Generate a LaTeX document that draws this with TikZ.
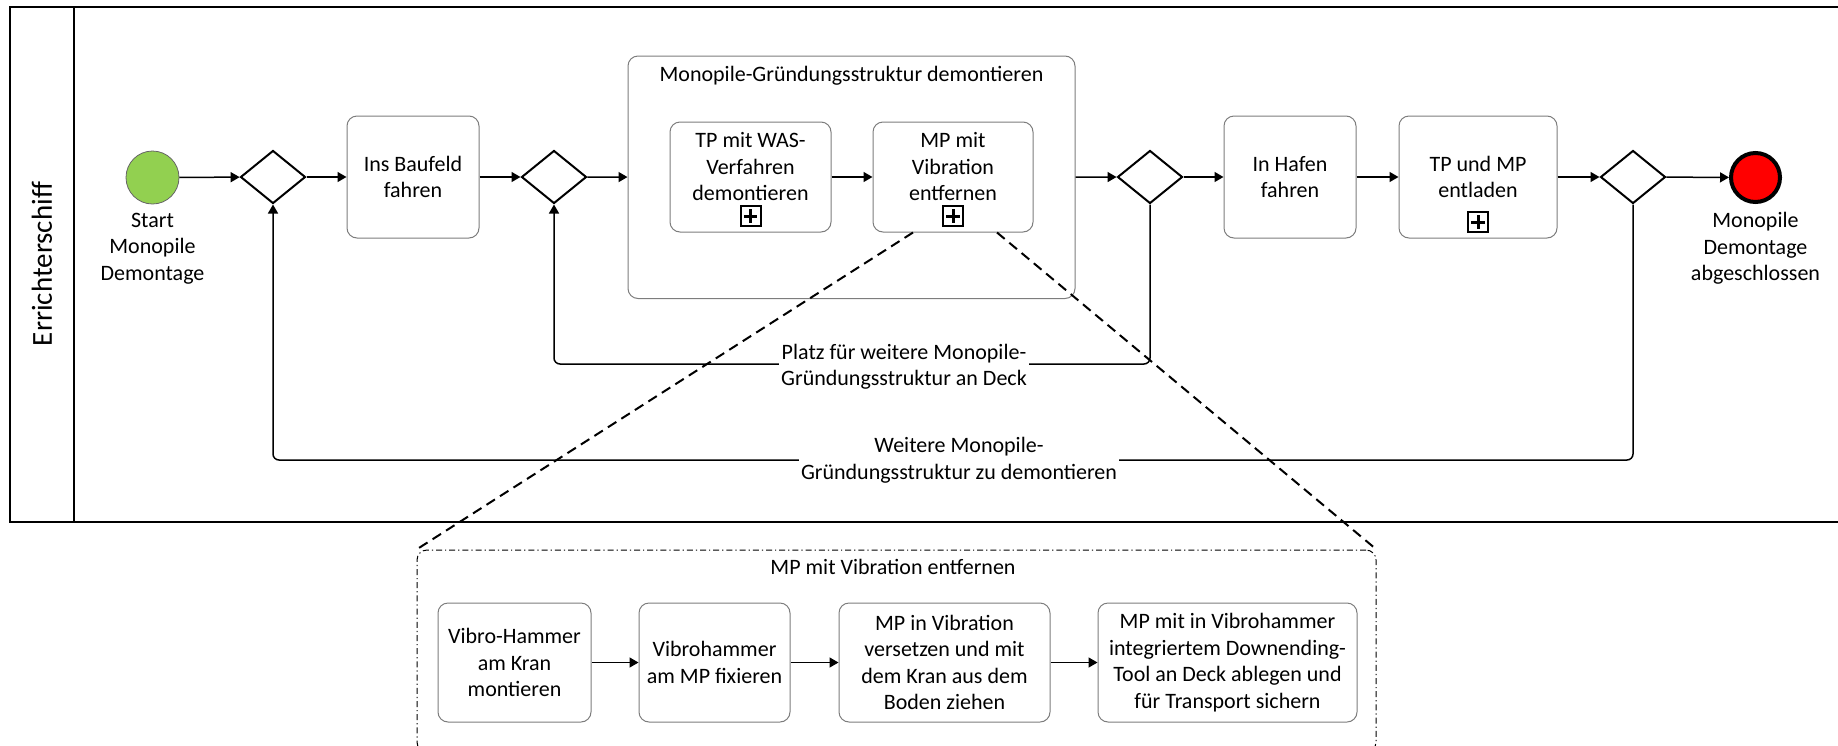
\documentclass[tikz,border=0pt]{standalone}
\usepackage{fontspec}
\setmainfont{Carlito}
\usetikzlibrary{positioning}
\usetikzlibrary{arrows.meta,shapes}
\usetikzlibrary{calc}

\definecolor{startgreen}{RGB}{146,208,80}
\definecolor{boxgray}{RGB}{125,125,125}

\tikzset{
  task/.style={draw=boxgray, line width=0.5pt, rounded corners=5pt, fill=white, align=center, inner sep=1pt},
  gateway/.style={diamond, draw, line width=1pt, fill=white, minimum width=32.5pt, minimum height=26.5pt, inner sep=0pt},
  startevent/.style={circle, draw=black!60, line width=0.4pt, fill=startgreen, minimum size=26.5pt, inner sep=0pt},
  endevent/.style={circle, draw, line width=2pt, fill=red, minimum size=24.5pt, inner sep=0pt},
  flow/.style={line width=0.75pt, -{Triangle[length=4.5pt,width=5pt]}},
  zoomline/.style={line width=1pt, dash pattern=on 5pt off 3pt},
  plusmark/.style={draw, line width=1pt, minimum size=10pt, inner sep=0pt,
    path picture={\draw[line width=1.5pt]
      ([xshift=-3.3pt]path picture bounding box.center) -- ([xshift=3.3pt]path picture bounding box.center)
      ([yshift=-3.3pt]path picture bounding box.center) -- ([yshift=3.3pt]path picture bounding box.center);}},
  evlabel/.style={align=center, inner sep=0pt},
  flowlabel/.style={align=center, fill=white, inner xsep=1pt, inner ysep=0pt},
}

\begin{document}
\begin{tikzpicture}[x=0.5pt, y=-0.5pt, font=\fontsize{11pt}{13.25pt}\selectfont]

 \clip (0,0) rectangle (1838,745);

 %pool and lane
 \draw[line width=1pt] (10,7) rectangle (1870,522);
 \draw[line width=1pt] (74,7) -- (74,522);
 \node[rotate=90, font=\fontsize{14.5pt}{17pt}\selectfont] (lane) at (42,264) {Errichterschiff};

 %main flow
 \node[startevent] (start) at (152.5,177.5) {};
 \node[evlabel, below=4pt of start] (startlbl) {Start\\Monopile\\Demontage};
 \node[gateway] (g1) at (273,177) {};
 \node[task, minimum width=66pt, minimum height=61pt] (baufeld) at (413,177) {Ins Baufeld\\fahren};
 \node[gateway] (g2) at (554,177) {};

 \node[task, minimum width=223.5pt, minimum height=121.25pt] (group) at (851.5,177.25) {};
 \node[below=2pt of group.north] (grouptitle) {Monopile-Gründungsstruktur demontieren};
 \node[task, minimum width=80.5pt, minimum height=55pt] (tpwas) at (750.5,177) {};
 \node[align=center] (tpwastext) at ([yshift=5pt]tpwas.center) {TP mit WAS-\\Verfahren\\demontieren};
 \node[plusmark, above=2.75pt of tpwas.south] (tpwasplus) {};
 \node[task, minimum width=80pt, minimum height=55pt] (mpvib) at (953,177) {};
 \node[align=center] (mpvibtext) at ([yshift=5pt]mpvib.center) {MP mit\\Vibration\\entfernen};
 \node[plusmark, above=2.75pt of mpvib.south] (mpvibplus) {};

 \node[gateway] (g3) at (1150,177) {};
 \node[task, minimum width=66pt, minimum height=61pt] (hafen) at (1290,177) {In Hafen\\fahren};
 \node[task, minimum width=79pt, minimum height=61pt] (entladen) at (1478,177) {TP und MP\\entladen};
 \node[plusmark, above=2.75pt of entladen.south] (entladenplus) {};
 \node[gateway] (g4) at (1633,177) {};
 \node[endevent] (end) at (1755.5,177.5) {};
 \node[evlabel, below=4pt of end] (endlbl) {Monopile\\Demontage\\abgeschlossen};

 \draw[flow] (start) -- (g1);
 \draw[flow] (g1) -- (baufeld);
 \draw[flow] (baufeld) -- (g2);
 \draw[flow] (g2) -- (group);
 \draw[flow] (tpwas) -- (mpvib);
 \draw[flow] (group) -- (g3);
 \draw[flow] (g3) -- (hafen);
 \draw[flow] (hafen) -- (entladen);
 \draw[flow] (entladen) -- (g4);
 \draw[flow] (g4) -- (end);

 %loops back
 \coordinate (loopA) at (0,364);
 \coordinate (loopB) at (0,460);
 \draw[flow, rounded corners=3pt] (g3.south) -- (g3.south |- loopA) -| (g2.south);
 \draw[flow, rounded corners=3pt] (g4.south) -- (g4.south |- loopB) -| (g1.south);
 \node[flowlabel] (lblA) at (904,366.5) {Platz für weitere Monopile-\\Gründungsstruktur an Deck};
 \node[flowlabel] (lblB) at (959,460) {Weitere Monopile-\\Gründungsstruktur zu demontieren};

 %expanded subprocess
 \node[draw, line width=0.5pt, dash pattern=on 3pt off 1.5pt on 0.6pt off 1.5pt, rounded corners=5pt,
       minimum width=479.5pt, minimum height=101pt] (zoombox) at (896.5,651) {};
 \node (zoomtitle) at (893,567) {MP mit Vibration entfernen};
 \draw[zoomline] ([xshift=-20pt]mpvib.south) -- (zoombox.north west);
 \draw[zoomline] ([xshift=22pt]mpvib.south) -- (zoombox.north east);

 \foreach \name/\x/\w/\txt in {vmont/514.5/76.5/{Vibro-Hammer\\am Kran\\montieren},
     vfix/714.5/75.5/{Vibrohammer\\am MP fixieren},
     vzieh/944.5/105.5/{MP in Vibration\\versetzen und mit\\dem Kran aus dem\\Boden ziehen},
     vablegen/1227.5/129.5/{MP mit in Vibrohammer\\integriertem Downending-\\Tool an Deck ablegen und\\für Transport sichern}} {
   \node[task, minimum width=\w pt, minimum height=59.5pt] (\name) at (\x,662.5) {\txt};
 }
 \foreach \a/\b in {vmont/vfix, vfix/vzieh, vzieh/vablegen} {
   \draw[flow] (\a) -- (\b);
 }

\end{tikzpicture}
\end{document}
